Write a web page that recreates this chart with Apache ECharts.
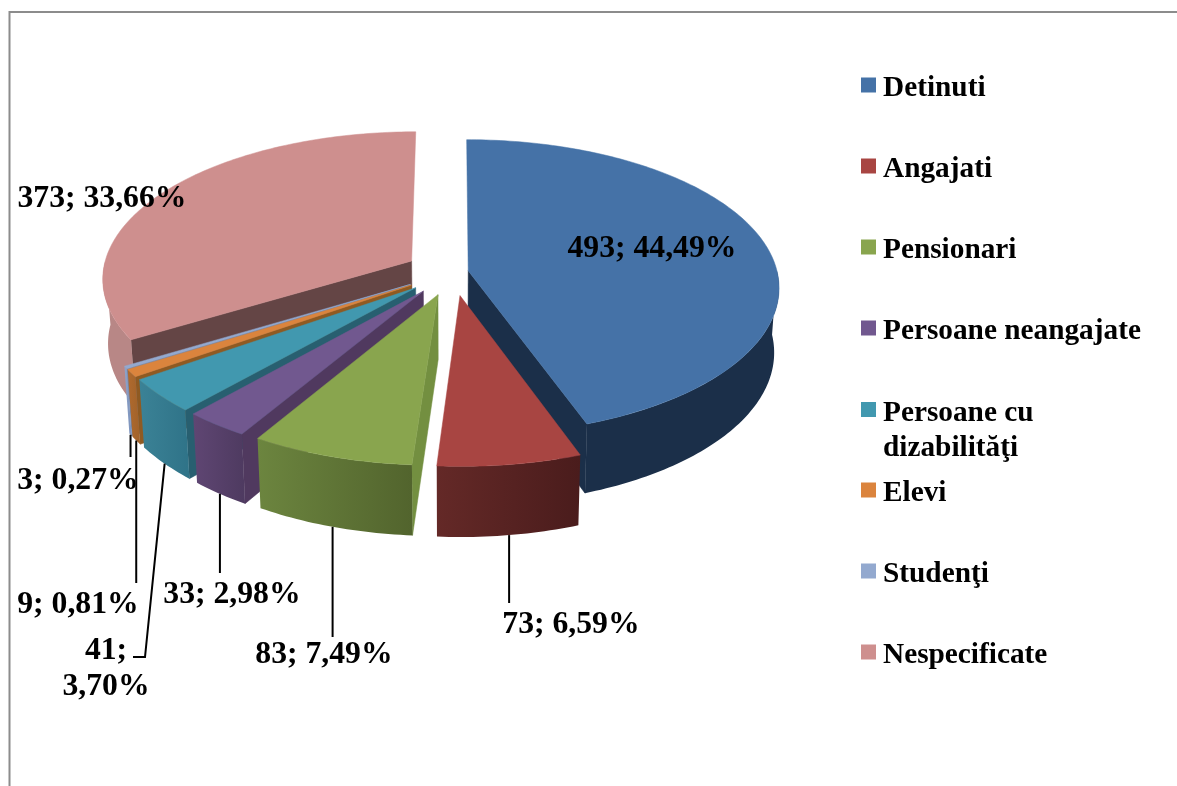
<!DOCTYPE html>
<html>
    <head>
        <meta charset="utf-8">
        <script src="https://cdn.jsdelivr.net/npm/echarts@6/dist/echarts.min.js"></script>
        <style>
            body, #main {
                margin: 0;
                width: 1177px;
                height: 786px;
                background: #fff;
            }
        </style>
    </head>
    <body>
        <div id="main"></div>

        <script>
            const categories = ['Detinuti', 'Angajati', 'Pensionari', 'Persoane neangajate',
                'Persoane cu dizabilităţi', 'Elevi', 'Studenţi', 'Nespecificate'];
            const values = [493, 73, 83, 33, 41, 9, 3, 373];

            const colors = ['#4572a7', '#a84542', '#89a54e', '#71588f', '#4198af', '#db843d', '#93a9cf', '#ce8f8e'];
            const wallColors = ['#1b2f49', '#5a2423', '#738f40', '#50395f', '#285f70', '#8f5a22', '#6f86ad', '#644545'];
            const sideLeft = ['#1b2f49', '#642927', '#6c853f', '#5f4673', '#3b8296', '#b06a2e', '#8fa5cc', '#b88786'];
            const sideRight = ['#1b2f49', '#4a1c1c', '#52642d', '#4e3a60', '#2f7388', '#a0622a', '#7a90b8', '#b88786'];

            // pie layout: how far each slice is pulled out, as a share of the radius
            const explode = [0.05, 0.16, 0.16, 0.16, 0.16, 0.16, 0.16, 0.155];
            const drawOrder = [7, 0, 6, 5, 4, 3, 2, 1];
            const pie = { cx: 453, cy: 272, rx: 309, ry: 146, depth: 65, persp: 0.112, shrink: 0.015 };

            // label centres and the end points of the leader lines (null x = straight down)
            const labelPos = [[652, 249], [571, 625], [324, 655], [232, 595], [106, 669], [78, 605], [78, 481], [102, 199]];
            const leaderEnds = [null, [[null, 603]], [[null, 637]], [[null, 573]], [[145, 657], [133, 657]],
                [[null, 583]], [[null, 457]], null];
            const legendTop = 85;
            const legendStep = 81;
            const font = 'bold 31.7px "Liberation Serif"';

            const total = values.reduce((a, b) => a + b, 0);
            const rad = Math.PI / 180;

            function project(x, y, z) {
                const s = (1 / (1 - pie.persp * y)) * (1 - pie.shrink * z);
                return [pie.cx + pie.rx * x * s, pie.cy + pie.ry * y * s + pie.depth * z * s];
            }

            // angles run clockwise from 12 o'clock
            function sliceOf(i) {
                const before = values.slice(0, i).reduce((a, b) => a + b, 0);
                const start = before / total * 360;
                const end = (before + values[i]) / total * 360;
                const mid = (start + end) / 2;
                const ox = explode[i] * Math.sin(mid * rad);
                const oy = -explode[i] * Math.cos(mid * rad);
                return {
                    start, end, mid,
                    rim: (a, z) => project(ox + Math.sin(a * rad), oy - Math.cos(a * rad), z),
                    apex: z => project(ox, oy, z)
                };
            }

            function arc(s, from, to, z) {
                const n = Math.max(2, Math.ceil(Math.abs(to - from)));
                const pts = [];
                for (let k = 0; k <= n; k++) {
                    pts.push(s.rim(from + (to - from) * k / n, z));
                }
                return pts;
            }

            function renderSlice(i) {
                return function () {
                    const s = sliceOf(i);
                    const children = [];
                    const wall = a => ({
                        type: 'polygon',
                        shape: { points: [s.apex(0), s.rim(a, 0), s.rim(a, 1), s.apex(1)] },
                        style: { fill: wallColors[i], stroke: wallColors[i], lineWidth: 0.5 }
                    });
                    if (s.start > 180) {
                        children.push(wall(s.start));
                    }
                    if (s.end < 180) {
                        children.push(wall(s.end));
                    }
                    // only the front of the rim shows
                    const from = Math.max(s.start, 90);
                    const to = Math.min(s.end, 270);
                    if (to > from) {
                        children.push({
                            type: 'polygon',
                            shape: { points: arc(s, from, to, 0).concat(arc(s, to, from, 1)) },
                            style: {
                                fill: {
                                    type: 'linear', x: 0, y: 0, x2: 1, y2: 0,
                                    colorStops: [
                                        { offset: 0, color: sideLeft[i] },
                                        { offset: 1, color: sideRight[i] }
                                    ]
                                }
                            }
                        });
                    }
                    children.push({
                        type: 'polygon',
                        shape: { points: [s.apex(0)].concat(arc(s, s.start, s.end, 0)) },
                        style: { fill: colors[i], stroke: colors[i], lineWidth: 0.5 }
                    });
                    return { type: 'group', children };
                };
            }

            function renderLabel(params, api) {
                const i = api.value(0);
                const s = sliceOf(i);
                const children = [];
                if (leaderEnds[i]) {
                    const a = s.rim(s.mid, 1);
                    const points = [a].concat(leaderEnds[i].map(p => [p[0] === null ? a[0] : p[0], p[1]]));
                    children.push({
                        type: 'polyline',
                        shape: { points },
                        style: { stroke: '#000', lineWidth: 2, fill: null }
                    });
                }
                const pct = (values[i] / total * 100).toFixed(2).replace('.', ',');
                let text = values[i] + '; ' + pct + '%';
                if (i === 4) {
                    text = values[i] + ';\n' + pct + '%';
                }
                children.push({
                    type: 'text',
                    style: {
                        text,
                        x: labelPos[i][0],
                        y: labelPos[i][1],
                        align: 'center',
                        verticalAlign: 'middle',
                        font,
                        lineHeight: 36,
                        fill: '#000'
                    }
                });
                return { type: 'group', children };
            }

            const series = drawOrder.map(i => ({
                type: 'custom',
                name: categories[i],
                coordinateSystem: 'none',
                silent: true,
                itemStyle: { color: colors[i] },
                data: [[values[i]]],
                renderItem: renderSlice(i)
            }));
            series.push({
                type: 'custom',
                name: 'labels',
                coordinateSystem: 'none',
                silent: true,
                data: values.map((v, i) => [i, v]),
                renderItem: renderLabel
            });

            const legendLabelStyle = {
                fontFamily: 'Liberation Serif',
                fontWeight: 'bold',
                fontSize: 29.3,
                lineHeight: 35,
                color: '#000'
            };

            // a spacer line on top pushes the text a little below the square
            const legend = categories.map((name, i) => ({
                left: 861,
                top: legendTop + legendStep * i - (i === 4 ? 35 : 18),
                padding: 0,
                orient: 'vertical',
                selectedMode: false,
                icon: 'rect',
                itemWidth: 15,
                itemHeight: 15,
                data: [name],
                formatter: () => i === 4
                    ? '{wide| }\n{t|Persoane cu}\n{t|dizabilităţi}'
                    : '{g| }\n{t|' + name + '}',
                textStyle: {
                    padding: [0, 0, 0, 2],
                    rich: {
                        g: { fontSize: 1, lineHeight: 7 },
                        wide: { fontSize: 1, lineHeight: 42 },
                        t: legendLabelStyle
                    }
                }
            }));

            const chart = echarts.init(document.getElementById('main'));
            chart.setOption({
                animation: false,
                backgroundColor: '#fff',
                legend,
                graphic: [{
                    type: 'polyline',
                    silent: true,
                    shape: { points: [[9.5, 786], [9.5, 12], [1177, 12]] },
                    style: { stroke: '#8c8c8c', lineWidth: 2, fill: null }
                }],
                series
            });
        </script>
    </body>
</html>
